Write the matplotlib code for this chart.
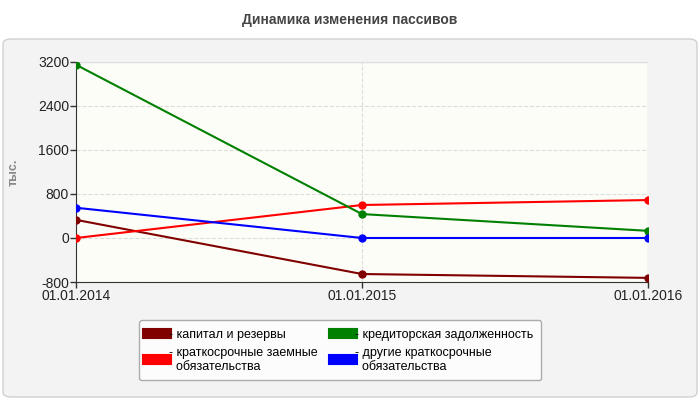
import matplotlib
matplotlib.use("Agg")
import matplotlib.pyplot as plt
from matplotlib.patches import FancyBboxPatch

plt.rcParams['font.family'] = ['Liberation Sans', 'DejaVu Sans']

dates = ["01.01.2014", "01.01.2015", "01.01.2016"]
capital = [330, -655, -725]
credit = [3150, 435, 130]
shortloans = [0, 600, 690]
other = [550, 0, 0]
yticks = [-800, 0, 800, 1600, 2400, 3200]

fig = plt.figure(figsize=(7, 4), dpi=100)
fig.patch.set_facecolor("white")
panel = FancyBboxPatch((3/700, 3/400), 694/700, 358/400, boxstyle="round,pad=0,rounding_size=0.012",
                       transform=fig.transFigure, facecolor="#f3f3f3", edgecolor="#d0d0d0", lw=1,
                       zorder=-10)
fig.patches.append(panel)
fig.text(0.5, 1 - 20/400, "Динамика изменения пассивов", ha="center", va="center",
         fontsize=10, fontweight="bold", color="#444444")

ax = fig.add_axes([76/700, 1 - 282/400, 572/700, 220/400])
ax.set_zorder(5)
ax.set_facecolor("#fdfdf8")
x = list(range(len(dates)))
series = [(capital, "#800000", "- капитал и резервы"),
          (shortloans, "#ff0000", "- краткосрочные заемные\n  обязательства"),
          (credit, "#008000", "- кредиторская задолженность"),
          (other, "#0000ff", "- другие краткосрочные\n  обязательства")]
handles = []
for vals, c, lab in series:
    h, = ax.plot(x, vals, color=c, lw=1.5, marker="o", ms=5, label=lab, zorder=3)
    handles.append(h)
ax.set_xlim(0, 2)
ax.set_ylim(-800, 3200)
ax.set_yticks(yticks)
ax.set_yticklabels([str(v) for v in yticks])
ax.set_xticks(x)
ax.set_xticklabels(dates)
ax.tick_params(labelsize=10, colors="#222222", length=4, width=1, color="#333333", pad=1)
for s in ["top", "right"]:
    ax.spines[s].set_visible(False)
for s in ["left", "bottom"]:
    ax.spines[s].set_color("#333333")
ax.grid(True, color="#dddddd", ls="--", lw=0.8)
ax.axhline(3200, color="#dddddd", lw=1)
ax.axvline(2, color="#dddddd", lw=1)
ax.set_ylabel("тыс.", fontsize=9, color="#888888", fontweight="bold")
ax.yaxis.set_label_coords(-0.098, 0.5)

leg = fig.legend(handles=handles, loc="upper left", bbox_to_anchor=(133/700, 1 - 314/400), ncol=2,
                 fontsize=9, frameon=True, handlelength=1.5, handleheight=1, columnspacing=1.2,
                 borderpad=0.6, fancybox=True, handletextpad=0.3)
leg.get_frame().set_edgecolor("#999999")
leg.get_frame().set_facecolor("white")
for line in leg.get_lines():
    line.set_linewidth(8)
    line.set_marker("")
fig.savefig("out.png", dpi=100)
